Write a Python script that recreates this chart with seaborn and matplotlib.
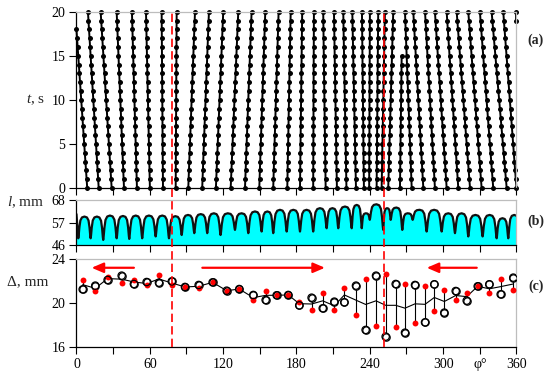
import numpy as np
import pandas as pd
import matplotlib
matplotlib.use("Agg")
import matplotlib.pyplot as plt
import seaborn as sns
from matplotlib.lines import Line2D
from matplotlib.patches import FancyArrowPatch
from matplotlib.transforms import blended_transform_factory

# ---- (a) tracks of the structures: position at start and end of each track, deg / s
trk_x_start = [8.8, 18.2, 28.8, 38.9, 49.5, 60.1, 70.8, 81.2, 91.5, 102.9, 114.1, 126.2,
               137.9, 149.6, 161.0, 172.5, 182.9, 193.7, 203.9, 213.1, 220.9, 228.7, 235.2,
               239.5, 245.6, 249.7, 255.1, 264.7, 274.3, 283.8, 293.3, 302.9, 312.4, 322.0,
               331.5, 341.0, 352.0, 360.0, 359.8]
trk_x_end = [0.0, 9.4, 19.8, 32.9, 45.4, 56.9, 69.7, 82.0, 97.0, 108.4, 120.1, 132.4,
             143.3, 154.5, 165.4, 175.3, 184.7, 194.3, 201.9, 210.7, 218.3, 225.7, 233.6,
             240.1, 246.9, 252.4, 259.2, 266.1, 268.8, 275.6, 285.2, 293.3, 302.9, 311.1,
             320.6, 330.1, 339.7, 349.2, 359.8]
trk_t_start = [0] * 38 + [19]
trk_t_end = [18] + [20] * 26 + [15] + [20] * 11

# ---- (b) profile l(phi): dips and arch tops between them, mm
l_start = 61.2
dip_phi = [1.5, 11.6, 21.9, 32.9, 43.2, 53.8, 64.8, 75.7, 86.1, 96.4, 107.0, 117.9,
           129.7, 140.6, 151.5, 161.0, 172.0, 182.9, 193.7, 204.7, 214.2, 225.2, 233.4,
           240.0, 251.0, 257.1, 266.6, 275.1, 286.5, 298.8, 309.7, 320.6, 332.3, 343.8, 353.3]
dip_l = [49.4, 49.4, 48.6, 49.4, 49.1, 49.4, 50.3, 49.4, 51.0, 51.9, 51.9, 51.0,
         53.5, 51.9, 52.7, 51.9, 52.7, 52.7, 52.7, 54.3, 54.3, 54.3, 54.3,
         58.4, 53.5, 58.4, 53.5, 58.4, 52.7, 52.7, 51.9, 50.3, 50.3, 49.4, 49.4]
arch_l = [60.0, 60.0, 60.5, 60.3, 60.5, 60.5, 60.5, 60.2, 60.8, 61.2, 61.6, 61.6,
          61.6, 62.5, 62.5, 63.3, 63.3, 63.3, 64.1, 64.1, 64.9, 65.7, 61.6,
          66.0, 64.1, 64.4, 61.6, 63.3, 63.3, 61.6, 61.6, 60.8, 60.8, 59.2, 60.8]

# ---- (c) spacing Delta, mm
phi_c = [5.1, 15.4, 25.5, 37.0, 47.0, 57.4, 67.5, 78.0, 88.8, 100.0, 111.4, 122.9, 133.2,
         144.7, 154.8, 163.8, 173.3, 182.3, 192.4, 201.5, 211.0, 219.2, 228.7, 236.6,
         245.1, 253.0, 261.2, 268.8, 277.0, 285.2, 292.8, 301.0, 310.3, 319.3, 328.3,
         337.8, 347.1, 357.4]
delta_open = [21.23, 21.57, 22.09, 22.48, 21.72, 21.90, 21.84, 21.96, 21.45, 21.63, 21.87,
              21.11, 21.26, 20.72, 20.26, 20.69, 20.72, 19.77, 20.47, 19.50, 20.11, 20.05,
              21.57, 17.53, 22.48, 16.92, 21.72, 17.28, 21.63, 18.22, 21.69, 19.11, 21.08,
              20.20, 21.51, 21.69, 20.78, 22.30]
delta_red = [22.09, 21.08, 22.33, 21.84, 22.09, 21.63, 22.51, 21.66, 21.45, 21.39, 21.87,
             21.11, 21.26, 20.23, 21.11, 20.69, 20.72, 20.08, 19.32, 20.87, 19.35, 21.39,
             18.92, 22.18, 17.89, 22.63, 17.83, 21.75, 18.19, 21.51, 19.29, 21.14, 20.26,
             20.93, 21.51, 20.87, 22.18, 21.14]

phi_marks = [78, 252]
arrow_from = [47.0, 103.0, 327.5]
arrow_to = [12.4, 203.3, 286.6]
arrow_y = 23.2

x_ticks = list(range(0, 361, 30))
x_labels = ['0', '', '60', '', '120', '', '180', '', '240', '', '300', 'φ°', '360']

sns.set_theme(style="ticks")
plt.rcParams['font.family'] = ['Liberation Serif', 'DejaVu Serif']
plt.rcParams['mathtext.fontset'] = 'custom'
plt.rcParams['mathtext.rm'] = 'Liberation Serif'
plt.rcParams['mathtext.it'] = 'Liberation Serif:italic'

fig = plt.figure(figsize=(5.5, 3.82), dpi=100)
left, width = 0.139, 0.80
ax_a = fig.add_axes([left, 0.508, width, 0.461])
ax_b = fig.add_axes([left, 0.358, width, 0.118])
ax_c = fig.add_axes([left, 0.0924, width, 0.2296])

# (a)
rows = []
for k in range(len(trk_x_start)):
    ts = np.arange(trk_t_start[k], trk_t_end[k] + 1)
    xs = np.interp(ts, [trk_t_start[k], trk_t_end[k]], [trk_x_start[k], trk_x_end[k]])
    for t, x in zip(ts, xs):
        rows.append({'track': k, 'phi': x, 't': t})
df_a = pd.DataFrame(rows)
sns.lineplot(data=df_a, x='phi', y='t', units='track', estimator=None, sort=False,
             color='black', lw=1.4, marker='o', markersize=3.6, markeredgewidth=0,
             clip_on=False, ax=ax_a)
ax_a.set_ylim(0, 20)
ax_a.set_yticks([0, 5, 10, 15, 20])

# (b) arches drawn between the read dips
rise = [(0.03, 0.12), (0.09, 0.5), (0.17, 0.82), (0.3, 0.96)]
xs, ys = [0.0], [l_start]
n = len(dip_phi)
for i in range(n):
    xd, d, a = dip_phi[i], dip_l[i], arch_l[i]
    xn = dip_phi[i + 1] if i + 1 < n else 363.0
    dn = dip_l[i + 1] if i + 1 < n else 50.0
    w = xn - xd
    xs.append(xd)
    ys.append(d)
    for f, h in rise:
        xs.append(xd + f * w)
        ys.append(d + h * (a - d))
    xs.append(xd + 0.5 * w)
    ys.append(a)
    for f, h in reversed(rise):
        xs.append(xn - f * w)
        ys.append(dn + h * (a - dn))
df_b = pd.DataFrame({'phi': xs, 'l': ys})
ax_b.fill_between(df_b['phi'], 46, df_b['l'], color='#00ffff', lw=0)
sns.lineplot(data=df_b, x='phi', y='l', estimator=None, sort=False, color='#111111',
             lw=1.6, ax=ax_b)
ax_b.set_ylim(46, 68)
ax_b.set_yticks([46, 57, 68])

# (c)
df_c = pd.DataFrame({'phi': phi_c, 'open': delta_open, 'red': delta_red})
df_c['mean'] = (df_c['open'] + df_c['red']) / 2
ax_c.vlines(df_c['phi'], df_c['open'], df_c['red'], color='black', lw=0.8, zorder=1)
sns.lineplot(data=df_c, x='phi', y='mean', color='black', lw=0.8, ax=ax_c, zorder=1)
sns.scatterplot(data=df_c, x='phi', y='open', s=28, facecolor='white', edgecolor='black',
                linewidth=0.9, ax=ax_c, zorder=3)
sns.scatterplot(data=df_c, x='phi', y='red', s=18, color='#ff0000', linewidth=0,
                ax=ax_c, zorder=4)
ax_c.scatter(df_c['phi'], df_c['open'], s=28, facecolors='none', edgecolors='black',
             linewidths=0.9, zorder=5)
for x0, x1 in zip(arrow_from, arrow_to):
    ax_c.add_patch(FancyArrowPatch((x0, arrow_y), (x1, arrow_y),
                                   arrowstyle='-|>,head_length=0.7,head_width=0.3',
                                   mutation_scale=10, color='#ff0000', lw=1.6,
                                   shrinkA=0, shrinkB=0, zorder=6))
ax_c.set_ylim(16, 24)
ax_c.set_yticks([16, 20, 24])

for ax in (ax_a, ax_b, ax_c):
    ax.set_xlim(0, 360)
    ax.set_xticks(x_ticks)
    ax.set_xlabel('')
    ax.set_ylabel('')
    for s in ('top', 'right'):
        ax.spines[s].set_color('#bdbdbd')
        ax.spines[s].set_linewidth(0.9)
    for s in ('left', 'bottom'):
        ax.spines[s].set_color('black')
        ax.spines[s].set_linewidth(0.9)
    ax.tick_params(direction='out', length=5, width=0.8, labelsize=10, pad=3,
                   colors='black')
ax_a.set_xticklabels([])
ax_b.set_xticklabels([])
ax_c.set_xticklabels(x_labels)

# dashed markers through all panels
trans = blended_transform_factory(ax_c.transData, fig.transFigure)
for xm in phi_marks:
    fig.add_artist(Line2D([xm, xm], [0.0924, 0.9686], transform=trans, color='#ff0000',
                          lw=1.2, linestyle=(0, (5, 2.5)), zorder=10))

fig.text(0.064, 0.738, '$t$, s', ha='center', va='center', fontsize=11)
fig.text(0.046, 0.471, '$l$, mm', ha='center', va='center', fontsize=11)
fig.text(0.050, 0.263, 'Δ, mm', ha='center', va='center', fontsize=11)
fig.text(0.973, 0.895, '(a)', ha='center', va='center', fontsize=10, fontweight='bold')
fig.text(0.975, 0.420, '(b)', ha='center', va='center', fontsize=10, fontweight='bold')
fig.text(0.975, 0.250, '(c)', ha='center', va='center', fontsize=10, fontweight='bold')

fig.savefig('out.png', dpi=100)
